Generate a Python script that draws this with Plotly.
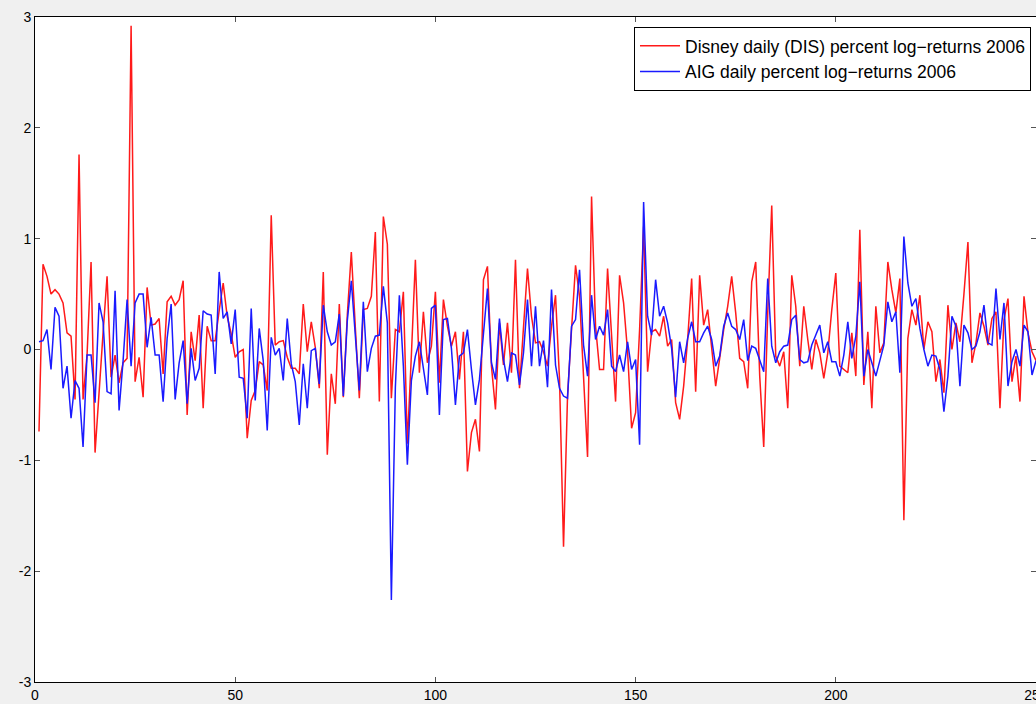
import plotly.graph_objects as go

# Disney (DIS) daily percent log-returns 2006
dis = [
    -0.74, 0.77, 0.66, 0.50, 0.54, 0.50, 0.42, 0.15, 0.12, -0.45,
    1.76, -0.45, -0.05, 0.79, -0.93, -0.35, 0.15, 0.66, -0.25, -0.05,
    -0.30, -0.12, -0.08, 2.92, -0.29, -0.07, -0.43, 0.56, 0.22, 0.23,
    0.28, -0.22, 0.43, 0.48, 0.40, 0.45, 0.62, -0.59, 0.16, -0.10,
    0.31, -0.53, 0.21, 0.08, 0.08, 0.35, 0.60, 0.30, 0.14, -0.07,
    -0.02, 0.00, -0.80, -0.46, -0.37, -0.11, -0.14, -0.37, 1.21, 0.04,
    0.07, 0.08, -0.07, -0.17, -0.17, -0.22, 0.41, -0.02, 0.25, 0.02,
    -0.35, 0.70, -0.95, -0.22, -0.49, 0.41, -0.43, 0.31, 0.88, 0.20,
    -0.44, 0.36, 0.37, 0.48, 1.06, -0.47, 1.20, 0.95, -0.44, 0.18,
    0.16, 0.52, -0.85, -0.05, 0.81, -0.21, 0.34, -0.12, 0.03, 0.52,
    -0.30, 0.45, 0.21, 0.03, 0.16, -0.27, 0.16, -1.10, -0.75, -0.63,
    -0.92, 0.63, 0.75, -0.15, -0.54, 0.24, -0.14, 0.24, -0.21, 0.81,
    -0.35, 0.20, 0.73, 0.30, 0.06, 0.07, -0.02, -0.15, 0.21, 0.49,
    -0.27, -1.78, -0.42, 0.18, 0.76, 0.48, -0.27, -0.97, 1.38, 0.21,
    -0.18, -0.18, 0.73, 0.09, -0.47, 0.67, 0.42, -0.02, -0.71, -0.57,
    0.18, 1.11, -0.20, 0.16, 0.18, 0.12, 0.30, 0.03, 0.09, -0.48,
    -0.63, -0.33, 0.09, 0.64, -0.38, 0.67, 0.22, 0.36, 0.00, -0.33,
    -0.08, 0.18, 0.39, 0.66, 0.33, -0.08, -0.11, -0.35, 0.61, 0.79,
    -0.24, -0.88, 0.33, 1.30, -0.06, -0.15, -0.02, -0.53, 0.67, 0.39,
    -0.15, 0.39, 0.09, -0.18, 0.09, -0.03, -0.26, -0.03, 0.36, 0.69,
    -0.15, -0.18, -0.21, 0.15, -0.24, 1.08, -0.32, 0.16, -0.53, 0.39,
    -0.03, 0.06, 0.79, 0.54, 0.33, 0.64, -1.54, 0.10, 0.36, 0.22,
    0.49, 0.00, 0.25, 0.16, -0.29, -0.09, -0.39, 0.40, 0.00, 0.24,
    0.07, 0.50, 0.97, -0.12, 0.06, 0.33, 0.21, 0.04, 0.28, 0.34,
    -0.53, 0.27, 0.46, -0.29, -0.06, -0.47, 0.48, 0.15, -0.02, -0.10,
]

# AIG daily percent log-returns 2006
aig = [
    0.07, 0.08, 0.18, -0.18, 0.38, 0.30, -0.35, -0.15, -0.62, -0.28,
    -0.35, -0.88, -0.05, -0.05, -0.48, 0.42, 0.25, -0.38, -0.40, 0.53,
    -0.55, -0.10, 0.45, -0.15, 0.42, 0.50, 0.50, 0.02, 0.29, -0.05,
    -0.05, -0.47, 0.10, 0.41, -0.45, -0.12, 0.08, -0.49, 0.01, -0.28,
    -0.17, 0.35, 0.32, 0.31, -0.22, 0.70, 0.28, 0.34, 0.05, 0.36,
    -0.25, -0.26, -0.62, 0.37, -0.46, 0.19, -0.10, -0.73, 0.11, -0.05,
    0.01, -0.28, 0.28, -0.13, -0.29, -0.68, -0.13, -0.53, -0.01, 0.01,
    -0.31, 0.40, 0.16, 0.04, 0.07, 0.32, -0.42, 0.26, 0.62, 0.10,
    -0.37, 0.43, -0.20, 0.01, 0.12, 0.13, 0.57, 0.24, -2.26, -0.34,
    0.49, -0.15, -1.04, -0.28, -0.06, 0.07, -0.17, -0.41, 0.37, 0.40,
    -0.59, 0.27, 0.28, 0.01, -0.50, -0.06, -0.03, 0.18, -0.18, -0.50,
    -0.27, 0.18, 0.55, -0.12, -0.27, 0.28, -0.09, -0.29, -0.03, -0.05,
    -0.32, -0.03, 0.45, -0.15, 0.39, -0.15, 0.08, -0.34, 0.54, -0.14,
    -0.35, -0.42, -0.44, 0.21, 0.27, 0.72, 0.04, -0.24, 0.49, 0.09,
    0.21, 0.13, 0.36, -0.15, -0.20, -0.05, -0.20, 0.07, -0.18, -0.09,
    -0.86, 1.33, 0.30, 0.13, 0.63, 0.30, 0.39, 0.24, 0.01, -0.43,
    0.07, -0.12, 0.10, 0.25, 0.07, 0.07, 0.15, 0.21, 0.09, -0.15,
    -0.06, 0.21, 0.33, 0.21, 0.18, 0.09, 0.27, -0.10, 0.03, 0.01,
    -0.09, -0.20, 0.64, 0.03, -0.12, -0.02, 0.03, 0.04, 0.27, 0.31,
    -0.09, -0.12, -0.11, 0.04, 0.13, 0.22, -0.03, 0.07, -0.11, -0.11,
    -0.24, -0.05, 0.25, -0.08, 0.12, 0.61, -0.24, 0.00, -0.12, -0.24,
    -0.10, 0.04, 0.43, 0.25, 0.34, -0.21, 1.02, 0.60, 0.39, 0.46,
    0.19, 0.00, -0.15, -0.05, -0.06, -0.18, -0.56, -0.24, 0.30, 0.21,
    -0.33, 0.22, 0.15, 0.00, 0.03, 0.16, 0.40, 0.06, 0.04, 0.55,
    0.09, 0.42, -0.33, -0.11, 0.00, -0.15, 0.22, 0.16, -0.23, -0.10,
]

days = list(range(1, len(dis) + 1))
x_ticks = [0, 50, 100, 150, 200, 250]
y_ticks = [-3, -2, -1, 0, 1, 2, 3]
y_labels = ["-3", "-2", "-1", "0", "1", "2", "3"]

fig = go.Figure()
fig.add_trace(go.Scatter(x=days, y=dis, mode="lines",
                         name="Disney daily (DIS) percent log\u2212returns 2006",
                         line=dict(color="#ff1a1a", width=1.5)))
fig.add_trace(go.Scatter(x=list(range(1, len(aig) + 1)), y=aig, mode="lines",
                         name="AIG daily percent log\u2212returns 2006",
                         line=dict(color="#1a1aff", width=1.5)))

axis_common = dict(showline=True, linecolor="black", linewidth=1, mirror="ticks",
                   ticks="inside", ticklen=5, tickcolor="#555555", showgrid=False,
                   zeroline=False, ticklabeloverflow="allow", automargin=False,
                   tickfont=dict(family="Liberation Sans, Arial", size=14, color="black"))

fig.update_layout(
    width=1036, height=704,
    margin=dict(l=35, r=0, t=17, b=22),
    paper_bgcolor="#f0f0f0", plot_bgcolor="white",
    showlegend=True,
    legend=dict(x=0.995, y=0.985, xanchor="right", yanchor="top",
                bgcolor="white", bordercolor="black", borderwidth=1,
                font=dict(family="Liberation Sans, Arial", size=17.5, color="black"),
                itemwidth=40, tracegroupgap=0),
    xaxis=dict(range=[0, 250], tickvals=x_ticks, **axis_common),
    yaxis=dict(range=[-3, 3], tickvals=y_ticks, ticktext=y_labels, **axis_common),
)

fig.write_html("out.html")
